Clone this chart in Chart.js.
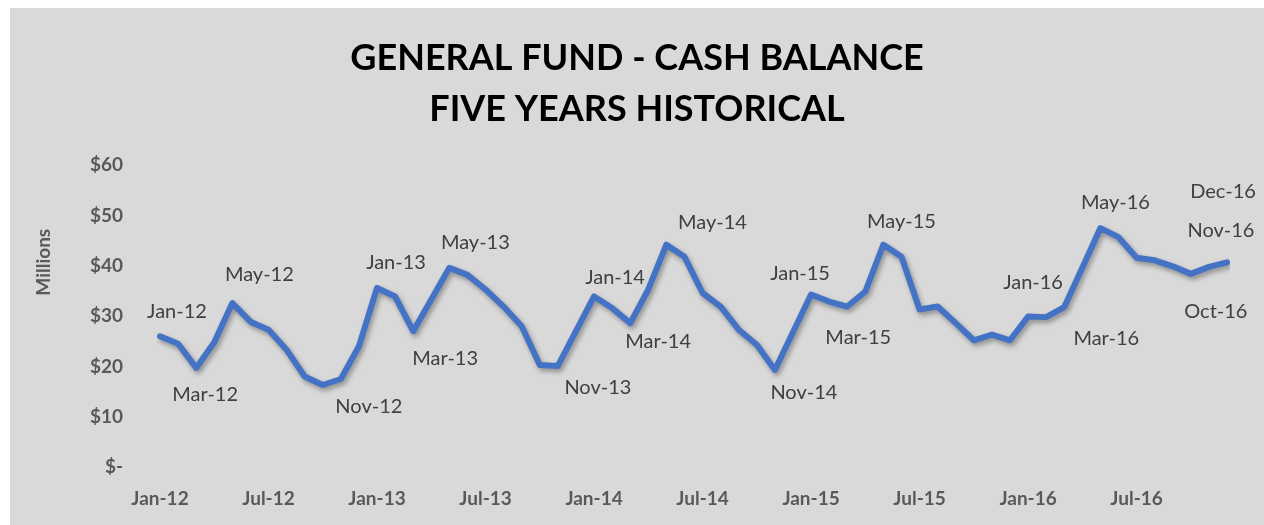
<!DOCTYPE html>
<html>
<head>
<meta charset="utf-8">
<script src="https://cdn.jsdelivr.net/npm/chart.js@4"></script>
<style>
  html, body { margin: 0; padding: 0; background: #ffffff; }
  #wrap { position: absolute; left: 10px; top: 8px; width: 1254px; height: 517px; background: #d9d9d9; }
  canvas { display: block; }
</style>
</head>
<body>
<div id="wrap"><canvas id="c" width="1254" height="517"></canvas></div>
<script>
// ---- DATA ----
const categories = [
  'Jan-12','Feb-12','Mar-12','Apr-12','May-12','Jun-12','Jul-12','Aug-12','Sep-12','Oct-12','Nov-12','Dec-12',
  'Jan-13','Feb-13','Mar-13','Apr-13','May-13','Jun-13','Jul-13','Aug-13','Sep-13','Oct-13','Nov-13','Dec-13',
  'Jan-14','Feb-14','Mar-14','Apr-14','May-14','Jun-14','Jul-14','Aug-14','Sep-14','Oct-14','Nov-14','Dec-14',
  'Jan-15','Feb-15','Mar-15','Apr-15','May-15','Jun-15','Jul-15','Aug-15','Sep-15','Oct-15','Nov-15','Dec-15',
  'Jan-16','Feb-16','Mar-16','Apr-16','May-16','Jun-16','Jul-16','Aug-16','Sep-16','Oct-16','Nov-16','Dec-16'
];
// Cash balance, $ millions
const cashBalance = [
  26.0, 24.5, 19.7, 24.8, 32.6, 28.9, 27.3, 23.3, 18.0, 16.3, 17.5, 24.0,
  35.6, 33.9, 27.0, 33.3, 39.6, 38.2, 35.3, 31.9, 28.0, 20.3, 20.1, 27.0,
  33.9, 31.6, 28.6, 35.3, 44.2, 41.8, 34.6, 31.9, 27.3, 24.3, 19.3, 26.8,
  34.3, 32.9, 31.9, 34.9, 44.2, 41.8, 31.3, 31.9, 28.6, 25.2, 26.3, 25.2,
  29.9, 29.8, 31.8, 39.6, 47.5, 45.7, 41.6, 41.1, 39.9, 38.4, 39.8, 40.7
];
// Point data labels shown on the chart
const pointLabels = [
  'Jan-12','', 'Mar-12','', 'May-12','', '', '', '', '', 'Nov-12','',
  'Jan-13','', 'Mar-13','', 'May-13','', '', '', '', '', 'Nov-13','',
  'Jan-14','', 'Mar-14','', 'May-14','', '', '', '', '', 'Nov-14','',
  'Jan-15','', 'Mar-15','', 'May-15','', '', '', '', '', '', '',
  'Jan-16','', 'Mar-16','', 'May-16','', '', '', '', 'Oct-16','Nov-16','Dec-16'
];
const xTickLabels = ['Jan-12','Jul-12','Jan-13','Jul-13','Jan-14','Jul-14','Jan-15','Jul-15','Jan-16','Jul-16'];
const yTicks = [0, 10, 20, 30, 40, 50, 60];
const titleLines = ['GENERAL FUND - CASH BALANCE', 'FIVE YEARS HISTORICAL'];
const yAxisTitle = 'Millions';

// ---- label placement (styling) ----
const labelOffsets = {
  0: [17, -25], 2: [9, 27], 4: [27, -28], 10: [28, 28],
  12: [19, -25], 14: [32, 27], 16: [26, -25], 22: [40, 22],
  24: [21, -19], 26: [28, 18], 28: [46, -22], 34: [29, 23],
  36: [-11, -21], 38: [11, 31], 40: [18, -23],
  48: [5, -34], 50: [42, 31], 52: [15, -26],
  57: [25, 38], 58: [12, -36], 59: [-4, -71]
};

const FONT = 'Lato, "Open Sans", sans-serif';

const shadowPlugin = {
  id: 'lineShadow',
  beforeDatasetDraw(chart) {
    const ctx = chart.ctx;
    ctx.save();
    ctx.shadowColor = 'rgba(0,0,0,0.35)';
    ctx.shadowBlur = 5;
    ctx.shadowOffsetX = 2;
    ctx.shadowOffsetY = 3;
  },
  afterDatasetDraw(chart) {
    chart.ctx.restore();
  }
};

const pointLabelPlugin = {
  id: 'pointLabels',
  afterDatasetsDraw(chart) {
    const ctx = chart.ctx;
    const meta = chart.getDatasetMeta(0);
    ctx.save();
    ctx.font = '20px ' + FONT;
    ctx.fillStyle = '#404040';
    ctx.textAlign = 'center';
    ctx.textBaseline = 'middle';
    meta.data.forEach((pt, i) => {
      const txt = pointLabels[i];
      if (!txt) return;
      const off = labelOffsets[i] || [0, -24];
      ctx.fillText(txt, pt.x + off[0], pt.y + off[1]);
    });
    ctx.restore();
  }
};

const yTitlePlugin = {
  id: 'yTitle',
  afterDraw(chart) {
    const ctx = chart.ctx;
    const area = chart.chartArea;
    ctx.save();
    ctx.translate(34, area.top + 97);
    ctx.rotate(-Math.PI / 2);
    ctx.font = 'bold 19px ' + FONT;
    ctx.fillStyle = '#595959';
    ctx.textAlign = 'center';
    ctx.textBaseline = 'middle';
    ctx.fillText(yAxisTitle, 0, 0);
    ctx.restore();
  }
};

new Chart(document.getElementById('c'), {
  type: 'line',
  data: {
    labels: categories,
    datasets: [{
      data: cashBalance,
      borderColor: '#4472C4',
      borderWidth: 6,
      borderCapStyle: 'round',
      borderJoinStyle: 'round',
      tension: 0,
      pointRadius: 0,
      pointHoverRadius: 0,
      fill: false
    }]
  },
  options: {
    responsive: false,
    animation: false,
    events: [],
    layout: { padding: { left: 37, right: 37, top: 0, bottom: 0 } },
    plugins: {
      legend: { display: false },
      tooltip: { enabled: false },
      title: {
        display: true,
        text: titleLines,
        color: '#000000',
        font: { family: FONT, size: 36, weight: 'bold', lineHeight: 1.42 },
        padding: { top: 25, bottom: 30 }
      }
    },
    scales: {
      x: {
        type: 'category',
        offset: false,
        grid: { display: false, drawTicks: false },
        border: { display: false },
        afterFit(s) { s.height = 58; },
        ticks: {
          autoSkip: false,
          maxRotation: 0,
          minRotation: 0,
          padding: 20,
          color: '#595959',
          font: { family: FONT, size: 19, weight: 'bold' },
          callback(v, i) {
            const lbl = categories[i];
            return xTickLabels.includes(lbl) ? lbl : '';
          }
        }
      },
      y: {
        min: yTicks[0],
        max: yTicks[yTicks.length - 1],
        grid: { display: false, drawTicks: false },
        border: { display: false },
        afterFit(s) { s.width = 113; },
        afterBuildTicks(s) { s.ticks = yTicks.map(v => ({ value: v })); },
        ticks: {
          padding: 37,
          color: '#595959',
          font: { family: FONT, size: 19, weight: 'bold' },
          callback(v) { return v === 0 ? '$-' : '$' + v; }
        }
      }
    }
  },
  plugins: [shadowPlugin, pointLabelPlugin, yTitlePlugin]
});
</script>
</body>
</html>
